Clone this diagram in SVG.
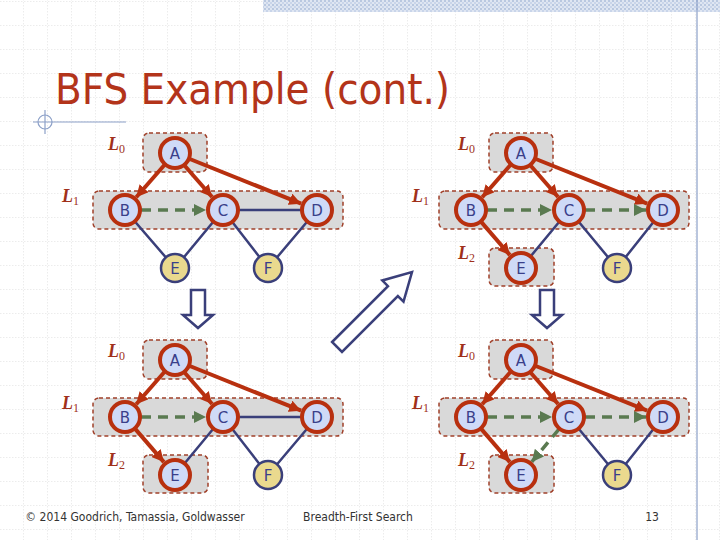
<svg xmlns="http://www.w3.org/2000/svg" width="720" height="540" viewBox="0 0 720 540">
<defs>
<pattern id="grid" x="0" y="2" width="24" height="24" patternUnits="userSpaceOnUse">
<path d="M24 0V24M0 24H24" fill="none" stroke="#cfcfcf" stroke-width="0.8" stroke-dasharray="1.5 1.5"/>
</pattern>
<pattern id="bar" width="4" height="4" patternUnits="userSpaceOnUse">
<rect width="4" height="4" fill="#dfe6f2"/><rect width="2" height="2" fill="#b9c8e0"/><rect x="2" y="2" width="2" height="2" fill="#c9d5ea"/>
</pattern>
<marker id="ar" markerUnits="userSpaceOnUse" markerWidth="14" markerHeight="12" refX="12" refY="6" orient="auto"><path d="M0,0 L12,6 L0,12 z" fill="#b8300f"/></marker>
<marker id="ag" markerUnits="userSpaceOnUse" markerWidth="14" markerHeight="12" refX="12" refY="6" orient="auto"><path d="M0,0 L12,6 L0,12 z" fill="#5a7a50"/></marker>
<style>
.box{fill:#d9d9d9;stroke:#a0402a;stroke-width:1.5;stroke-dasharray:4 3}
.nr circle{fill:#cfdaf7;stroke:#b8300f;stroke-width:4}
.ny circle{fill:#ead98e;stroke:#3a3f7a;stroke-width:2.5}
.n text{font-family:"DejaVu Sans",sans-serif;font-size:15px;fill:#3a3f8a;text-anchor:middle}
.red{stroke:#b8300f;stroke-width:4;fill:none;marker-end:url(#ar)}
.grn{stroke:#5a7a50;stroke-width:3.5;fill:none;stroke-dasharray:10 7;marker-end:url(#ag)}
.blu{stroke:#3a3f7a;stroke-width:2.5;fill:none}
.lv{font-family:"Liberation Serif",serif;font-style:italic;font-weight:bold;font-size:18px;fill:#a0301a}
.lv tspan{font-style:normal;font-weight:normal;font-size:12px}
.blk{fill:#fff;stroke:#3a3f7a;stroke-width:2.5}
.ft{font-family:"DejaVu Sans Condensed","DejaVu Sans",sans-serif;font-size:12px;fill:#333}
</style>
</defs>
<rect width="720" height="540" fill="#fff"/>
<rect width="720" height="540" fill="url(#grid)"/>
<rect x="263" y="0" width="457" height="12" fill="url(#bar)"/>
<line x1="697" y1="0" x2="697" y2="540" stroke="#8ca0c8" stroke-width="1.2"/>
<line x1="33" y1="122" x2="126" y2="122" stroke="#8ca0c8" stroke-width="1.2"/>
<circle cx="45" cy="122" r="7" fill="none" stroke="#8ca0c8" stroke-width="1.2"/>
<line x1="45" y1="110" x2="45" y2="134" stroke="#8ca0c8" stroke-width="1.2"/>
<text x="55" y="104" font-family="DejaVu Sans Condensed, DejaVu Sans, sans-serif" font-size="42" fill="#b3341a" textLength="395" lengthAdjust="spacingAndGlyphs">BFS Example (cont.)</text>

<!-- Panel 1 -->
<g id="panel1">
<rect class="box" x="143" y="133" width="64" height="39" rx="6"/>
<rect class="box" x="93" y="191" width="250" height="38" rx="6"/>
<text class="lv" x="108" y="150">L<tspan dy="3">0</tspan></text>
<text class="lv" x="62" y="202">L<tspan dy="3">1</tspan></text>
<g id="p1-edges">
<path class="blu" d="M223,210H317M125,210L175,268M223,210L175,268M223,210L268,268M317,210L268,268"/>
<path class="red" d="M164.4,165L136.2,197.3"/>
<path class="red" d="M184.3,165.2L212.1,197"/>
<path class="red" d="M189.8,159L301.2,203.7"/>
<path class="grn" d="M141,210H206"/>
</g>
<g id="p1-A" class="n nr"><circle cx="175" cy="153" r="15"/><text x="175" y="158.5">A</text></g>
<g id="p1-B" class="n nr"><circle cx="125" cy="210" r="15"/><text x="125" y="215.5">B</text></g>
<g id="p1-C" class="n nr"><circle cx="223" cy="210" r="15"/><text x="223" y="215.5">C</text></g>
<g id="p1-D" class="n nr"><circle cx="317" cy="210" r="15"/><text x="317" y="215.5">D</text></g>
<g id="p1-E" class="n ny"><circle cx="175" cy="268" r="14"/><text x="175" y="273.5">E</text></g>
<g id="p1-F" class="n ny"><circle cx="268" cy="268" r="14"/><text x="268" y="273.5">F</text></g>
</g>

<!-- Panel 2 -->
<g id="panel2" transform="translate(346,0)">
<rect class="box" x="143" y="133" width="64" height="39" rx="6"/>
<rect class="box" x="93" y="191" width="250" height="38" rx="6"/>
<rect class="box" x="143" y="248" width="65" height="38" rx="6"/>
<text class="lv" x="112" y="150">L<tspan dy="3">0</tspan></text>
<text class="lv" x="66" y="202">L<tspan dy="3">1</tspan></text>
<text class="lv" x="112" y="259">L<tspan dy="3">2</tspan></text>
<g id="p2-edges">
<path class="blu" d="M223,210L175,268M223,210L271,268M317,210L271,268"/>
<path class="red" d="M164.4,165L136.2,197.3"/>
<path class="red" d="M184.3,165.2L212.1,197"/>
<path class="red" d="M189.8,159L301.2,203.7"/>
<path class="red" d="M135.4,222.1L163.9,255.1"/>
<path class="grn" d="M141,210H206"/>
<path class="grn" d="M239,210H300"/>
</g>
<g id="p2-A" class="n nr"><circle cx="175" cy="153" r="15"/><text x="175" y="158.5">A</text></g>
<g id="p2-B" class="n nr"><circle cx="125" cy="210" r="15"/><text x="125" y="215.5">B</text></g>
<g id="p2-C" class="n nr"><circle cx="223" cy="210" r="15"/><text x="223" y="215.5">C</text></g>
<g id="p2-D" class="n nr"><circle cx="317" cy="210" r="15"/><text x="317" y="215.5">D</text></g>
<g id="p2-E" class="n nr"><circle cx="175" cy="268" r="15"/><text x="175" y="273.5">E</text></g>
<g id="p2-F" class="n ny"><circle cx="271" cy="268" r="14"/><text x="271" y="273.5">F</text></g>
</g>

<!-- Panel 3 -->
<g id="panel3" transform="translate(0,207)">
<rect class="box" x="143" y="133" width="64" height="39" rx="6"/>
<rect class="box" x="93" y="191" width="250" height="38" rx="6"/>
<rect class="box" x="143" y="248" width="65" height="38" rx="6"/>
<text class="lv" x="108" y="150">L<tspan dy="3">0</tspan></text>
<text class="lv" x="62" y="202">L<tspan dy="3">1</tspan></text>
<text class="lv" x="108" y="259">L<tspan dy="3">2</tspan></text>
<g id="p3-edges">
<path class="blu" d="M223,210H317M223,210L175,268M223,210L268,268M317,210L268,268"/>
<path class="red" d="M164.4,165L136.2,197.3"/>
<path class="red" d="M184.3,165.2L212.1,197"/>
<path class="red" d="M189.8,159L301.2,203.7"/>
<path class="red" d="M135.4,222.1L163.9,255.1"/>
<path class="grn" d="M141,210H206"/>
</g>
<g id="p3-A" class="n nr"><circle cx="175" cy="153" r="15"/><text x="175" y="158.5">A</text></g>
<g id="p3-B" class="n nr"><circle cx="125" cy="210" r="15"/><text x="125" y="215.5">B</text></g>
<g id="p3-C" class="n nr"><circle cx="223" cy="210" r="15"/><text x="223" y="215.5">C</text></g>
<g id="p3-D" class="n nr"><circle cx="317" cy="210" r="15"/><text x="317" y="215.5">D</text></g>
<g id="p3-E" class="n nr"><circle cx="175" cy="268" r="15"/><text x="175" y="273.5">E</text></g>
<g id="p3-F" class="n ny"><circle cx="268" cy="268" r="14"/><text x="268" y="273.5">F</text></g>
</g>

<!-- Panel 4 -->
<g id="panel4" transform="translate(346,207)">
<rect class="box" x="143" y="133" width="64" height="39" rx="6"/>
<rect class="box" x="93" y="191" width="250" height="38" rx="6"/>
<rect class="box" x="143" y="248" width="65" height="38" rx="6"/>
<text class="lv" x="112" y="150">L<tspan dy="3">0</tspan></text>
<text class="lv" x="66" y="202">L<tspan dy="3">1</tspan></text>
<text class="lv" x="112" y="259">L<tspan dy="3">2</tspan></text>
<g id="p4-edges">
<path class="blu" d="M223,210L271,268M317,210L271,268"/>
<path class="red" d="M164.4,165L136.2,197.3"/>
<path class="red" d="M184.3,165.2L212.1,197"/>
<path class="red" d="M189.8,159L301.2,203.7"/>
<path class="red" d="M135.4,222.1L163.9,255.1"/>
<path class="grn" d="M141,210H206"/>
<path class="grn" d="M239,210H300"/>
<path class="grn" d="M212.8,222.3L185.8,254.9"/>
</g>
<g id="p4-A" class="n nr"><circle cx="175" cy="153" r="15"/><text x="175" y="158.5">A</text></g>
<g id="p4-B" class="n nr"><circle cx="125" cy="210" r="15"/><text x="125" y="215.5">B</text></g>
<g id="p4-C" class="n nr"><circle cx="223" cy="210" r="15"/><text x="223" y="215.5">C</text></g>
<g id="p4-D" class="n nr"><circle cx="317" cy="210" r="15"/><text x="317" y="215.5">D</text></g>
<g id="p4-E" class="n nr"><circle cx="175" cy="268" r="15"/><text x="175" y="273.5">E</text></g>
<g id="p4-F" class="n ny"><circle cx="271" cy="268" r="14"/><text x="271" y="273.5">F</text></g>
</g>

<g id="step-arrows">
<polygon class="blk" points="191,290 205,290 205,315 213,315 198,328 183,315 191,315"/>
<polygon class="blk" points="540,290 554,290 554,315 562,315 547,328 532,315 540,315"/>
<polygon class="blk" transform="translate(342,342) rotate(-45)" points="-7,-7 72,-7 72,-15 99,0 72,15 72,7 -7,7"/>
</g>

<text class="ft" x="135" y="521" text-anchor="middle">© 2014 Goodrich, Tamassia, Goldwasser</text>
<text class="ft" x="358" y="521" text-anchor="middle">Breadth-First Search</text>
<text class="ft" x="652" y="521" text-anchor="middle">13</text>
</svg>
